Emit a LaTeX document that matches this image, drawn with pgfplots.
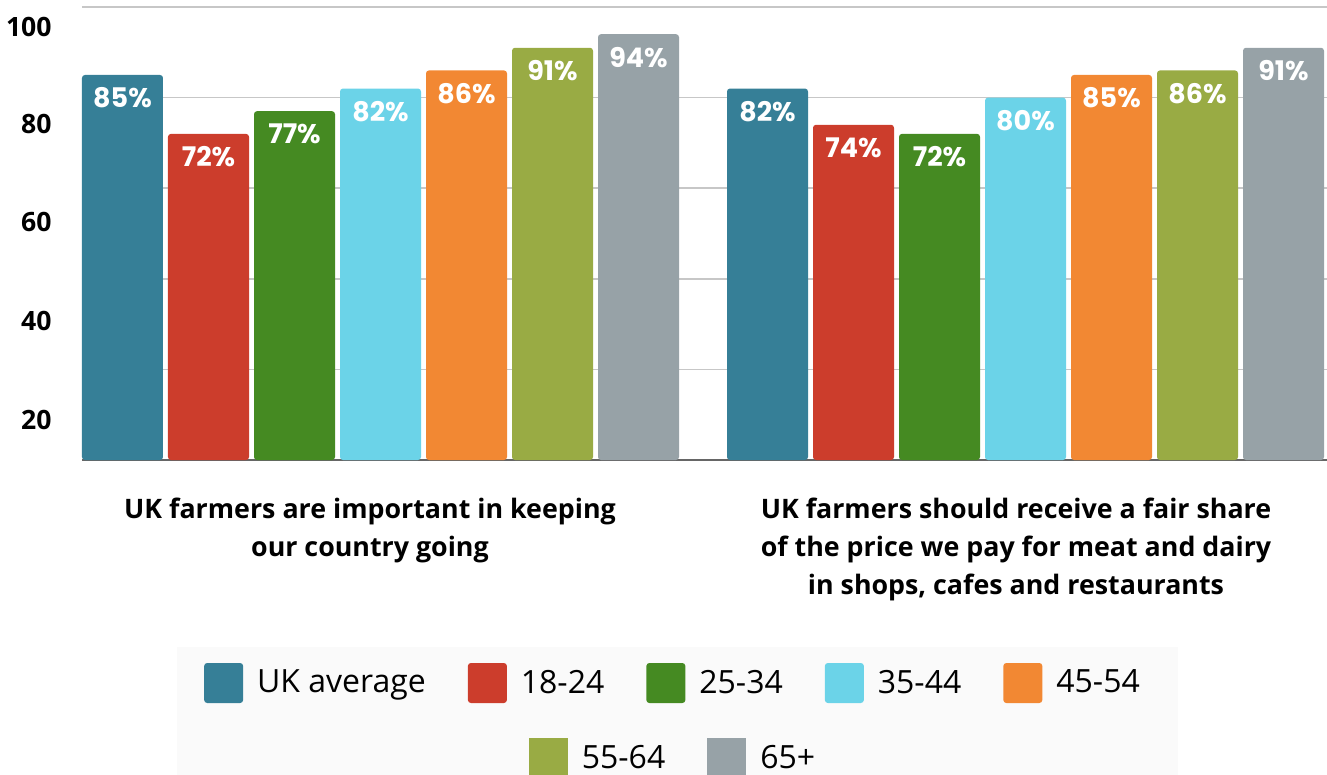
\documentclass[border=0pt]{standalone}
\usepackage{fontspec}
\setmainfont{Open Sans}
\newfontfamily\popfont{Poppins}
\usepackage{pgfplots}
\pgfplotsset{compat=1.18}
\definecolor{cAvg}{HTML}{367F97}
\definecolor{cA}{HTML}{CC3D2C}
\definecolor{cB}{HTML}{458A22}
\definecolor{cC}{HTML}{6BD3E8}
\definecolor{cD}{HTML}{F28833}
\definecolor{cE}{HTML}{99AB44}
\definecolor{cF}{HTML}{97A2A7}
\pgfplotsset{
  barlab/.style={ybar, bar width=81, bar shift=0pt, draw=none, rounded corners=1.5pt,
    point meta=y,
    nodes near coords={\pgfmathprintnumber{\pgfplotspointmeta}\%},
    every node near coord/.append style={font=\popfont\bfseries\fontsize{13.5}{15}\selectfont,
      text=white, anchor=center, yshift=-11.5pt}},
  legimg/.style={legend image code/.code={\fill[##1] (0pt,-10pt) rectangle (19.5pt,10pt);}},
}
\begin{document}
\begin{tikzpicture}
\useasboundingbox (-41pt,-157.5pt) rectangle (622.5pt,230pt);
\fill[black!2] (47.5pt,-93.5pt) rectangle (548pt,-157.5pt);
\begin{axis}[at={(0pt,0pt)}, anchor=south west,
  width=622.5pt, height=226.5pt, scale only axis,
  xmin=82, xmax=1327, ymin=0, ymax=100,
  axis x line*=bottom, axis y line*=left,
  y axis line style={draw=none},
  x axis line style={draw=black!60, line width=0.6pt},
  major tick length=0pt,
  xtick={370,1016},
  xticklabels={{UK farmers are important in keeping\\our country going},
               {UK farmers should receive a fair share\\of the price we pay for meat and dairy\\in shops, cafes and restaurants}},
  xticklabel style={align=center, font=\fontsize{13.4}{18.8}\selectfont\bfseries,
     anchor=north, inner sep=0pt, yshift=-19pt},
  ytick={8.8,30.7,52.5,74.2,95.6},
  yticklabels={20,40,60,80,100},
  yticklabel style={font=\fontsize{13.3}{15}\selectfont\bfseries, anchor=east, inner sep=0pt, xshift=-15pt},
  /pgf/number format/assume math mode=true,
  extra y ticks={20,40,60,80,100},
  extra y tick labels={},
  extra y tick style={ymajorgrids=true, major grid style={draw=black!22, line width=0.8pt}},
  legimg,
  legend columns=5,
  legend style={at={(0.4755,-0.4923)}, anchor=center, draw=none, fill=none,
     font=\fontsize{16}{19}\selectfont,
     /tikz/every odd column/.append style={column sep=5pt},
     /tikz/every even column/.append style={column sep=19pt}},
]
\addplot[barlab, fill=cAvg] coordinates {(122.5,85) (767.5,82)};
\addplot[barlab, fill=cA] coordinates {(208.5,72) (853.5,74)};
\addplot[barlab, fill=cB] coordinates {(294.5,77) (939.5,72)};
\addplot[barlab, fill=cC] coordinates {(380.5,82) (1025.5,80)};
\addplot[barlab, fill=cD] coordinates {(466.5,86) (1111.5,85)};
\addplot[barlab, fill=cE, forget plot] coordinates {(552.5,91) (1197.5,86)};
\addplot[barlab, fill=cF, forget plot] coordinates {(638.5,94) (1283.5,91)};
\legend{UK average,18-24,25-34,35-44,45-54}
\end{axis}
\begin{axis}[at={(0pt,0pt)}, anchor=south west,
  width=622.5pt, height=226.5pt, scale only axis, hide axis,
  xmin=0, xmax=1, ymin=0, ymax=1,
  legimg,
  legend columns=2,
  legend style={at={(0.4755,-0.6578)}, anchor=center, draw=none, fill=none,
     font=\fontsize{16}{19}\selectfont,
     /tikz/every odd column/.append style={column sep=5pt},
     /tikz/every even column/.append style={column sep=19pt}},
]
\addlegendimage{fill=cE, draw=none}
\addlegendentry{55-64}
\addlegendimage{fill=cF, draw=none}
\addlegendentry{65+}
\end{axis}
\end{tikzpicture}
\end{document}
